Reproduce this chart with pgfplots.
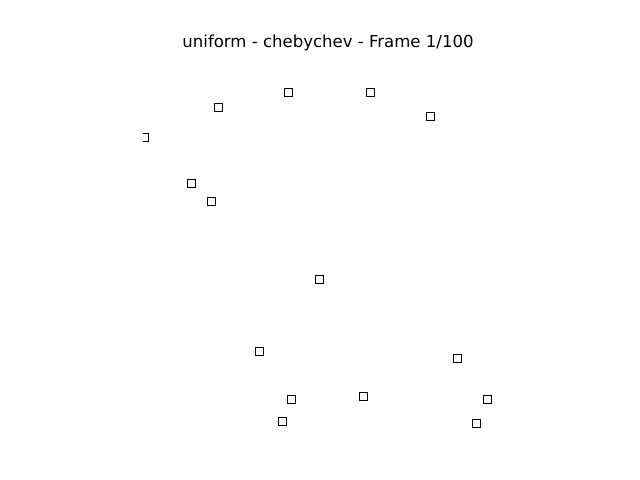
\documentclass[border=0pt]{standalone}
\usepackage{pgfplots}
\pgfplotsset{compat=1.18}
\usepackage{fontspec}
\setmainfont{DejaVu Sans}

\begin{document}
\begin{tikzpicture}
\begin{axis}[
    scale only axis,
    width=370bp, height=368bp,
    xmin=0, xmax=1, ymin=0, ymax=1,
    axis lines=none,
    ticks=none,
    clip=true,
    clip marker paths=true,
]
\addplot[only marks, mark=square, mark size=4bp, draw=black, line width=0.9bp]
    coordinates {
    (0.392,0.910) (0.614,0.908) (0.203,0.867) (0.776,0.845) (0.004,0.788)
    (0.132,0.663) (0.186,0.614) (0.476,0.402) (0.314,0.204) (0.851,0.185)
    (0.400,0.076) (0.597,0.082) (0.930,0.076) (0.376,0.016) (0.900,0.011)
    };
\coordinate (sw) at (rel axis cs:0,0);
\coordinate (ne) at (rel axis cs:1,1);
\coordinate (tt) at (rel axis cs:0.5,1);
\end{axis}
\node[font=\fontsize{16.6}{19}\selectfont, inner sep=0pt, yshift=16bp] at (tt)
    {uniform - chebychev - Frame 1/100};
\path ([shift={(-143bp,-53bp)}]sw) rectangle ([shift={(127bp,59bp)}]ne);
\end{tikzpicture}
\end{document}
